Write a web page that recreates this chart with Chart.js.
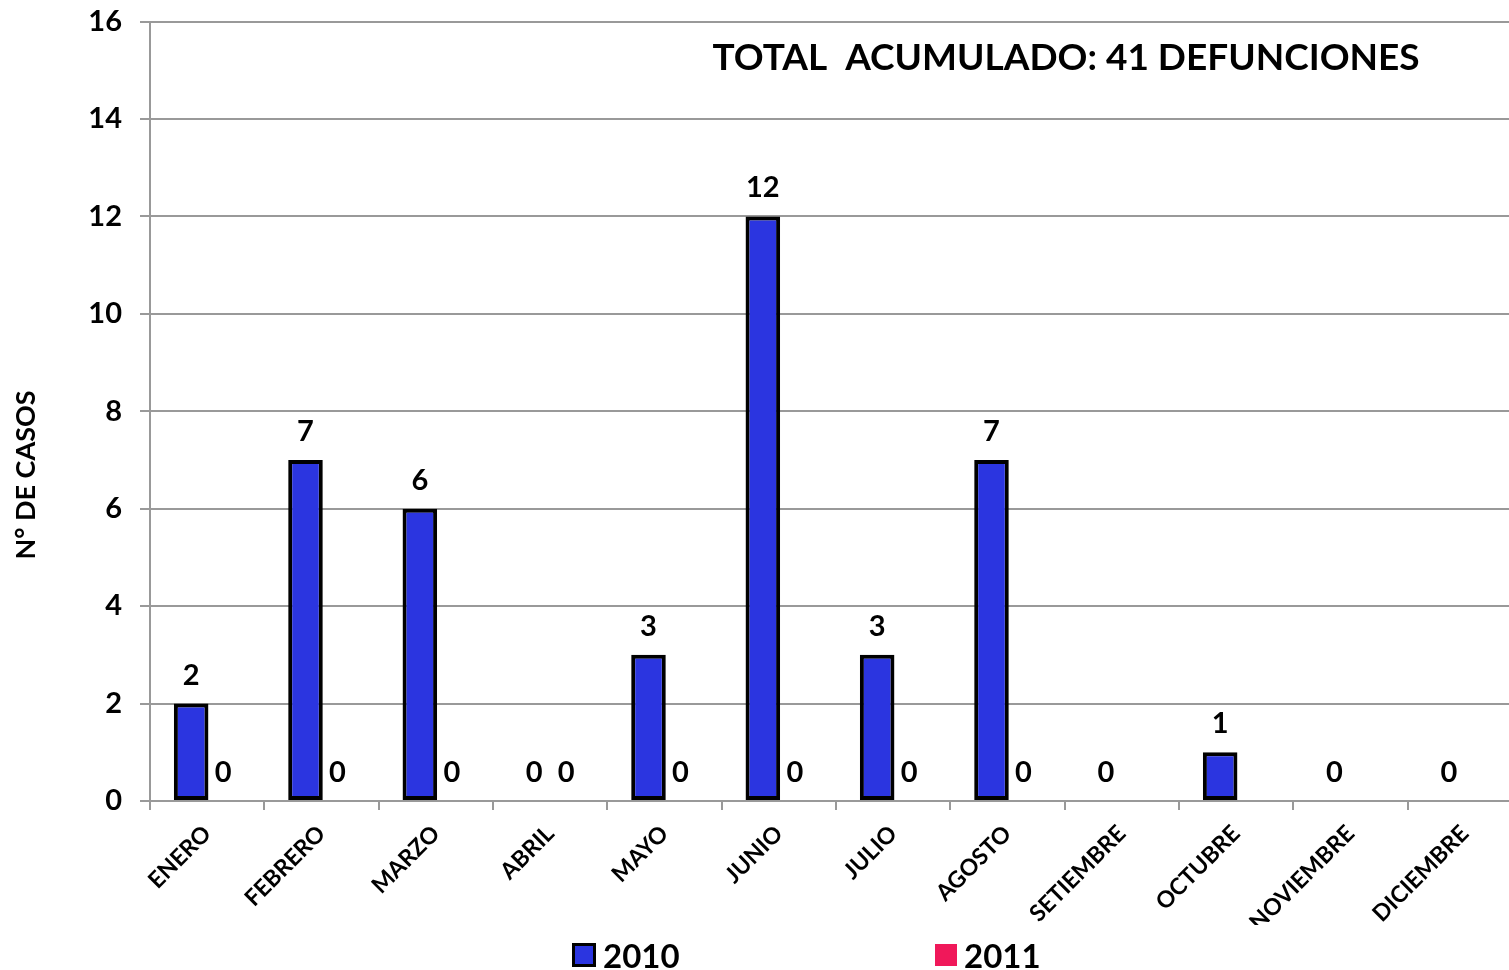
<!DOCTYPE html>
<html>
<head>
<meta charset="utf-8">
<script src="https://cdn.jsdelivr.net/npm/chart.js@4"></script>
<style>
    html, body { margin: 0; padding: 0; background: #fff; overflow: hidden; }
    #wrap { position: relative; width: 1524px; height: 970px; overflow: hidden; }
    #chart { position: absolute; left: 0; top: -11px; }
    .leg { position: absolute; top: 935px; font: bold 33px Lato, sans-serif; color: #000; display: flex; align-items: center; }
    .leg i { display: inline-block; margin-right: 7px; }
</style>
</head>
<body>
<div id="wrap">
    <canvas id="chart" width="1524" height="981"></canvas>
    <div class="leg" style="left:572px"><i style="width:18px;height:18px;background:#2B35E0;border:3.5px solid #000"></i>2010</div>
    <div class="leg" style="left:935px"><i style="width:22px;height:22px;background:#F0185A"></i>2011</div>
</div>
<script>
// meses
const MESES = ['ENERO', 'FEBRERO', 'MARZO', 'ABRIL', 'MAYO', 'JUNIO', 'JULIO', 'AGOSTO', 'SETIEMBRE', 'OCTUBRE', 'NOVIEMBRE', 'DICIEMBRE'];
// defunciones por mes
const DATA_2010 = [2, 7, 6, 0, 3, 12, 3, 7, 0, 1, 0, 0];
const DATA_2011 = [0, 0, 0, 0, 0, 0, 0, 0, null, null, null, null];
const TITULO = 'TOTAL  ACUMULADO: 41 DEFUNCIONES';
const TITULO_Y = 'N° DE CASOS';

const FONT = 'Lato, sans-serif';
const SHIFT = 11; // el canvas sube 11px

// etiquetas sobre las barras
const valueLabels = {
    id: 'valueLabels',
    afterDatasetsDraw(chart) {
        const ctx = chart.ctx;
        ctx.save();
        ctx.font = 'bold 29px ' + FONT;
        ctx.fillStyle = '#000';
        ctx.textAlign = 'center';
        ctx.textBaseline = 'alphabetic';
        chart.data.datasets.forEach((ds, i) => {
            chart.getDatasetMeta(i).data.forEach((bar, j) => {
                const v = ds.data[j];
                if (v === null) return;
                ctx.fillText(String(v), bar.x, bar.y - 19);
            });
        });
        ctx.restore();
    }
};

// textos extra: total y titulo del eje y
const extraText = {
    id: 'extraText',
    afterDraw(chart) {
        const ctx = chart.ctx;
        ctx.save();
        ctx.fillStyle = '#000';
        ctx.textAlign = 'center';
        ctx.textBaseline = 'middle';
        ctx.font = 'bold 37px ' + FONT;
        ctx.fillText(TITULO, 1066, 58 + SHIFT);
        ctx.translate(26, 475 + SHIFT);
        ctx.rotate(-Math.PI / 2);
        ctx.font = 'bold 27px ' + FONT;
        ctx.fillText(TITULO_Y, 0, 0);
        ctx.restore();
    }
};

new Chart(document.getElementById('chart').getContext('2d'), {
    type: 'bar',
    data: {
        labels: MESES,
        datasets: [{
            label: '2010',
            data: DATA_2010,
            backgroundColor: '#2B35E0',
            borderColor: '#000',
            borderWidth: 4,
            borderSkipped: false
        }, {
            label: '2011',
            data: DATA_2011,
            backgroundColor: '#F0185A',
            borderColor: '#000',
            borderWidth: 0
        }]
    },
    options: {
        responsive: false,
        animation: false,
        maintainAspectRatio: false,
        layout: { padding: { top: 0, right: 2, bottom: 45, left: 0 } },
        datasets: { bar: { categoryPercentage: 0.56, barPercentage: 1.08 } },
        plugins: {
            legend: { display: false },
            tooltip: { enabled: false }
        },
        scales: {
            x: {
                grid: { drawOnChartArea: false, color: '#999', lineWidth: 2, tickLength: 9 },
                border: { color: '#999', width: 2 },
                ticks: {
                    color: '#000',
                    font: { family: FONT, weight: 'bold', size: 23 },
                    maxRotation: 45, minRotation: 45,
                    padding: 10
                },
                afterFit(scale) { scale.height = 124; }
            },
            y: {
                min: 0, max: 16,
                ticks: {
                    stepSize: 2,
                    color: '#000',
                    font: { family: FONT, weight: 'bold', size: 29, lineHeight: 1 },
                    padding: 18
                },
                grid: { color: '#999', lineWidth: 2, tickLength: 10 },
                border: { color: '#999', width: 2 },
                afterFit(scale) { scale.width = 150; }
            }
        }
    },
    plugins: [valueLabels, extraText]
});
</script>
</body>
</html>
